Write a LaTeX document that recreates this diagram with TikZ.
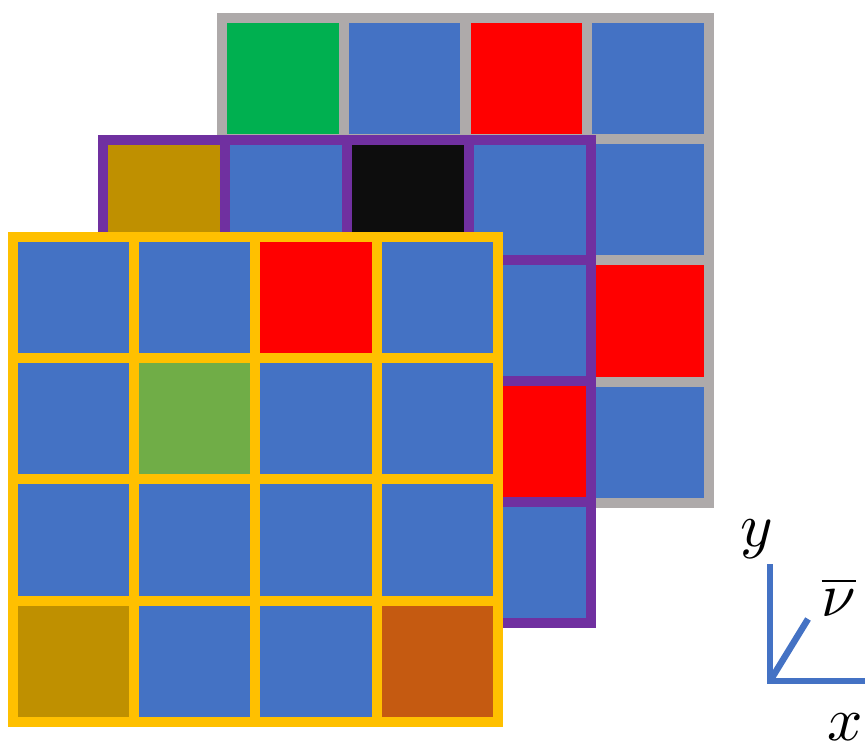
\documentclass[tikz,border=0pt]{standalone}
\DeclareFontFamily{OML}{cmm}{\skewchar\font'177}
\DeclareFontShape{OML}{cmm}{m}{it}{<->cmmi10}{}
\DeclareFontFamily{OMS}{cmsy}{\skewchar\font'60}
\DeclareFontShape{OMS}{cmsy}{m}{n}{<->cmsy10}{}
\DeclareFontFamily{OMX}{cmex}{}
\DeclareFontShape{OMX}{cmex}{m}{n}{<->cmex10}{}
\definecolor{cblue}{HTML}{4472C4}
\definecolor{cgreen}{HTML}{00B050}
\definecolor{cred}{HTML}{FF0000}
\definecolor{cgray}{HTML}{AEAAAA}
\definecolor{cpurple}{HTML}{7030A0}
\definecolor{cgold}{HTML}{BF9000}
\definecolor{cblack}{HTML}{0D0D0D}
\definecolor{cyellow}{HTML}{FFC000}
\definecolor{clgreen}{HTML}{70AD47}
\definecolor{corange}{HTML}{C55A11}
\begin{document}
\begin{tikzpicture}[x=1pt,y=-1pt,
  cell/.style={line width=10pt, minimum size=121.5pt, inner sep=0pt, outer sep=0pt, anchor=center, line join=miter},
  axisline/.style={draw=cblue, line width=6.5pt, line join=miter},
  lbl/.style={inner sep=0pt, font=\fontsize{62}{62}\selectfont}]
\useasboundingbox (0,0) rectangle (865,740);
% gray grid (back)
\foreach \r/\q/\f in {0/0/cgreen,0/1/cblue,0/2/cred,0/3/cblue,
                      1/0/cblue,1/1/cblue,1/2/cblue,1/3/cblue,
                      2/0/cblue,2/1/cblue,2/2/cblue,2/3/cred,
                      3/0/cblue,3/1/cblue,3/2/cblue,3/3/cblue}
  \node[cell, draw=cgray, fill=\f] (g\r\q) at ({222+121.75*(\q+0.5)},{18+121.25*(\r+0.5)}) {};
% purple grid (middle)
\foreach \r/\q/\f in {0/0/cgold,0/1/cblue,0/2/cblack,0/3/cblue,
                      1/0/cblue,1/1/cblue,1/2/cblue,1/3/cblue,
                      2/0/cblue,2/1/cblue,2/2/cblue,2/3/cred,
                      3/0/cblue,3/1/cblue,3/2/cblue,3/3/cblue}
  \node[cell, draw=cpurple, fill=\f] (p\r\q) at ({103+122*(\q+0.5)},{140+120.75*(\r+0.5)}) {};
% yellow grid (front)
\foreach \r/\q/\f in {0/0/cblue,0/1/cblue,0/2/cred,0/3/cblue,
                      1/0/cblue,1/1/clgreen,1/2/cblue,1/3/cblue,
                      2/0/cblue,2/1/cblue,2/2/cblue,2/3/cblue,
                      3/0/cgold,3/1/cblue,3/2/cblue,3/3/corange}
  \node[cell, draw=cyellow, fill=\f] (y\r\q) at ({13+121.25*(\q+0.5)},{237+121.25*(\r+0.5)}) {};
% axes
\coordinate (o) at (770,681);
\coordinate (ytop) at (770,564);
\coordinate (xend) at (866,681);
\coordinate (vend) at (808,619);
\draw[axisline] (ytop) -- (o) -- (xend);
\draw[axisline] (o) -- (vend);
\node[lbl] (ly) at (757,539) {$y$};
\node[lbl] (lv) at (839,597) {$\overline{\nu}$};
\node[lbl] (lx) at (845,727) {$x$};
\end{tikzpicture}
\end{document}
